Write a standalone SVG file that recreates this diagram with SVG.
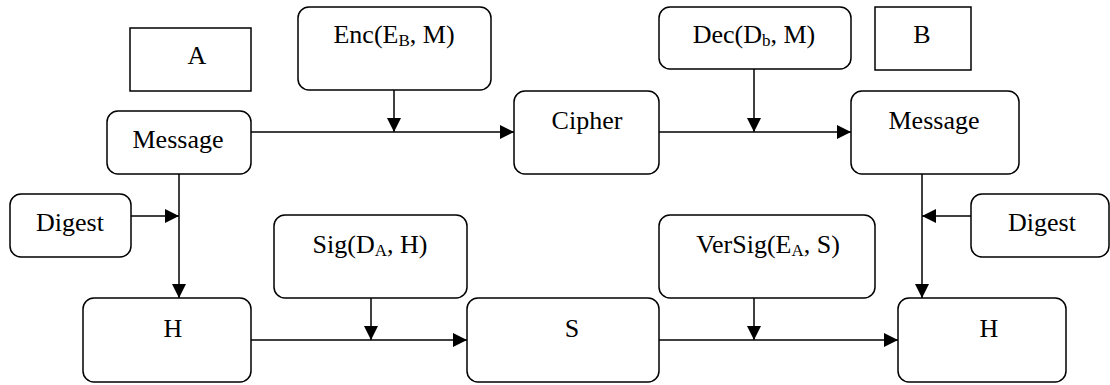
<svg xmlns="http://www.w3.org/2000/svg" width="1110" height="385" viewBox="0 0 1110 385">
  <defs>
    <marker id="arrow" markerUnits="userSpaceOnUse" markerWidth="15" markerHeight="15" refX="14" refY="7" orient="auto">
      <path d="M0,0 L14,7 L0,14 z" fill="#000"/>
    </marker>
    <style>
      .box { fill: #fff; stroke: #000; stroke-width: 1.5; }
      .lbl { font-family: "Liberation Serif", "Times New Roman", serif; font-size: 26px; fill: #000; text-anchor: middle; }
      .sub { font-size: 17px; }
      .conn path { fill: none; stroke: #000; stroke-width: 1.5; marker-end: url(#arrow); }
    </style>
  </defs>
  <rect width="1110" height="385" fill="#fff"/>

  <!-- party labels -->
  <g id="partyA">
    <rect class="box" x="130" y="28" width="121" height="63"/>
    <text class="lbl" x="197" y="64">A</text>
  </g>
  <g id="partyB">
    <rect class="box" x="875" y="7" width="96" height="63"/>
    <text class="lbl" x="922" y="43">B</text>
  </g>

  <!-- operations -->
  <g id="enc">
    <rect class="box" x="298" y="7" width="193" height="83" rx="11"/>
    <text class="lbl" x="394" y="43">Enc(E<tspan class="sub" dy="3">B</tspan><tspan dy="-3">, M)</tspan></text>
  </g>
  <g id="dec">
    <rect class="box" x="659" y="7" width="192" height="62" rx="11"/>
    <text class="lbl" x="754" y="43">Dec(D<tspan class="sub" dy="3">b</tspan><tspan dy="-3">, M)</tspan></text>
  </g>
  <g id="sig">
    <rect class="box" x="274" y="215" width="193" height="83" rx="11"/>
    <text class="lbl" x="370" y="253">Sig(D<tspan class="sub" dy="3">A</tspan><tspan dy="-3">, H)</tspan></text>
  </g>
  <g id="versig">
    <rect class="box" x="659" y="215" width="216" height="83" rx="11"/>
    <text class="lbl" x="768" y="253">VerSig(E<tspan class="sub" dy="3">A</tspan><tspan dy="-3">, S)</tspan></text>
  </g>

  <!-- data -->
  <g id="messageA">
    <rect class="box" x="107" y="111" width="144" height="63" rx="11"/>
    <text class="lbl" x="178" y="148">Message</text>
  </g>
  <g id="cipher">
    <rect class="box" x="514" y="91" width="145" height="83" rx="11"/>
    <text class="lbl" x="587" y="129">Cipher</text>
  </g>
  <g id="messageB">
    <rect class="box" x="851" y="91" width="168" height="83" rx="11"/>
    <text class="lbl" x="934" y="129">Message</text>
  </g>
  <g id="digestA">
    <rect class="box" x="10" y="194" width="121" height="63" rx="11"/>
    <text class="lbl" x="70" y="231">Digest</text>
  </g>
  <g id="digestB">
    <rect class="box" x="971" y="194" width="138" height="63" rx="11"/>
    <text class="lbl" x="1042" y="231">Digest</text>
  </g>
  <g id="hashA">
    <rect class="box" x="83" y="298" width="168" height="84" rx="11"/>
    <text class="lbl" x="173" y="337">H</text>
  </g>
  <g id="signature">
    <rect class="box" x="467" y="298" width="192" height="84" rx="11"/>
    <text class="lbl" x="572" y="337">S</text>
  </g>
  <g id="hashB">
    <rect class="box" x="898" y="298" width="168" height="84" rx="11"/>
    <text class="lbl" x="989" y="337">H</text>
  </g>

  <!-- connectors -->
  <g id="connectors" class="conn">
    <path d="M251,132 H514"/>
    <path d="M394,90 V132"/>
    <path d="M659,132 H851"/>
    <path d="M754,69 V132"/>
    <path d="M179,174 V298"/>
    <path d="M131,216 H179"/>
    <path d="M251,340 H467"/>
    <path d="M371,298 V340"/>
    <path d="M659,340 H898"/>
    <path d="M754,298 V340"/>
    <path d="M922,174 V298"/>
    <path d="M971,216 H922"/>
  </g>
</svg>
